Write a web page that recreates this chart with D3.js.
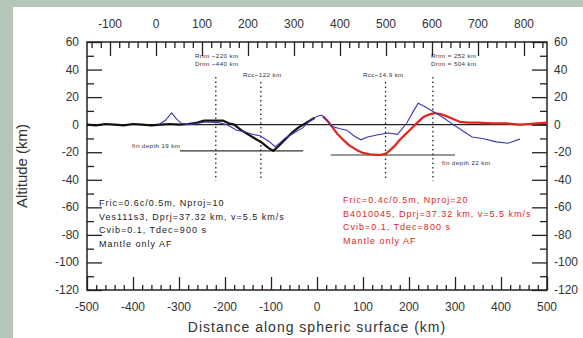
<!DOCTYPE html>
<html>
<head>
<meta charset="utf-8">
<script src="https://cdn.jsdelivr.net/npm/d3@7"></script>
<style>
  body { margin: 0; background: #b4c7b7; }
  svg { display: block; font-family: "Liberation Sans", Arial, sans-serif; }
</style>
</head>
<body>
<svg id="chart" width="583" height="338"></svg>
<script>
// profiles (distance km along surface, altitude km)
const blackProfile = [
  [-500, 0], [-480, -0.5], [-460, 0.5], [-440, 0], [-420, -0.5], [-400, 0.5], [-380, 0], [-360, -0.5],
  [-340, 0], [-320, 0.5], [-300, 0], [-280, 0.5], [-260, 1.5], [-245, 3], [-225, 3], [-205, 3],
  [-192, 1], [-180, 0], [-165, -4], [-150, -7], [-135, -10], [-120, -13], [-105, -17], [-95, -19],
  [-85, -16], [-70, -11], [-55, -6], [-40, -2], [-30, 0], [-15, 3], [-5, 5]
];
const blueProfile = [
  [-345, 0], [-330, 3], [-316, 8.5], [-305, 4], [-295, 1], [-280, 0], [-260, 1], [-240, 2],
  [-215, 1.5], [-195, 0], [-175, -4], [-160, -5], [-140, -7], [-124, -8], [-105, -12], [-91, -16],
  [-80, -13], [-70, -10], [-50, -6], [-30, -2], [-15, 3], [0, 6], [10, 7], [20, 4], [30, -1],
  [50, -3], [65, -4], [80, -8], [95, -11], [110, -9], [130, -7.5], [155, -6], [175, -7], [195, 1],
  [210, 10], [220, 15.5], [235, 13], [255, 9], [275, 5], [296, 0], [315, -4], [337, -9],
  [360, -10], [390, -12.5], [415, -13.5], [441, -10.5]
];
const redProfile = [
  [13, 6], [25, 2], [35, -2.5], [45, -7], [57, -11], [70, -15], [87, -18.5], [100, -20.5],
  [115, -21.5], [137, -22], [150, -21], [159, -18.5], [170, -15], [180, -11], [195, -6],
  [209, -1.5], [220, 2], [231, 5.5], [245, 7.5], [255, 8.5], [270, 7.5], [283, 6], [300, 3.5],
  [311, 2], [330, 1.5], [350, 1.5], [380, 1], [410, 1], [441, 0], [460, 0.5], [480, 1], [500, 1.5]
];

// reference marks
const rimCraterX = [-220, -122, 149, 252];
const finDepths = [
  { x0: -298, x1: -30, depth: -19, label: "fin depth 19 km" },
  { x0: 30, x1: 300, depth: -22, label: "fin depth 22 km" }
];
const blackNotes = ["Fric=0.6c/0.5m, Nproj=10", "Ves111s3, Dprj=37.32 km, v=5.5 km/s", "Cvib=0.1, Tdec=900 s", "Mantle only AF"];
const redNotes = ["Fric=0.4c/0.5m, Nproj=20", "B4010045, Dprj=37.32 km, v=5.5 km/s", "Cvib=0.1, Tdec=800 s", "Mantle only AF"];

const bottomTicks = [-500, -400, -300, -200, -100, 0, 100, 200, 300, 400, 500];
const topTicks = [-100, 0, 100, 200, 300, 400, 500, 600, 700, 800];
const yTicks = [60, 40, 20, 0, -20, -40, -60, -80, -100, -120];

const svg = d3.select("#chart");
svg.append("rect").attr("x", 13).attr("y", 7).attr("width", 570).attr("height", 331).attr("fill", "#fff");

const left = 87, right = 547, plotTop = 42, plotBottom = 290;
const x = d3.scaleLinear().domain([-500, 500]).range([left, right]);
const xTop = d3.scaleLinear().domain([-150, 850]).range([left, right]);
const y = d3.scaleLinear().domain([-120, 60]).range([plotBottom, plotTop]);

const ink = "#222";

// axes
const gB = svg.append("g").attr("transform", `translate(0,${plotBottom})`)
  .call(d3.axisTop(x).tickValues(d3.range(-500, 501, 20)).tickSize(5).tickFormat(""));
gB.selectAll(".tick line").filter(d => d % 100 === 0).attr("y2", -13);
const gT = svg.append("g").attr("transform", `translate(0,${plotTop})`)
  .call(d3.axisBottom(xTop).tickValues(d3.range(-140, 841, 20)).tickSize(6).tickFormat(""));
gT.selectAll(".tick line").filter(d => d % 100 === 0).attr("y2", 14);
const gL = svg.append("g").attr("transform", `translate(${left},0)`)
  .call(d3.axisRight(y).tickValues(d3.range(-120, 61, 10)).tickSize(7).tickFormat(""));
gL.selectAll(".tick line").filter(d => d % 20 === 0).attr("x2", 15);
const gR = svg.append("g").attr("transform", `translate(${right},0)`)
  .call(d3.axisLeft(y).tickValues(d3.range(-120, 61, 10)).tickSize(7).tickFormat(""));
gR.selectAll(".tick line").filter(d => d % 20 === 0).attr("x2", -15);
[gB, gT, gL, gR].forEach(g => {
  g.select(".domain").remove();
  g.selectAll(".tick line").attr("stroke", ink).attr("stroke-width", 1.3);
});
svg.append("rect").attr("x", left).attr("y", plotTop).attr("width", right - left).attr("height", plotBottom - plotTop)
  .attr("fill", "none").attr("stroke", ink).attr("stroke-width", 1.5);

// tick labels
svg.selectAll(".bl").data(bottomTicks).join("text")
  .attr("x", d => x(d)).attr("y", 311).attr("text-anchor", "middle")
  .attr("font-size", 12).attr("fill", "#333").text(d => d);
svg.selectAll(".tl").data(topTicks).join("text")
  .attr("x", d => xTop(d)).attr("y", 28).attr("text-anchor", "middle")
  .attr("font-size", 12).attr("fill", "#333").text(d => d);
svg.selectAll(".ll").data(yTicks).join("text")
  .attr("x", 79).attr("y", d => y(d) + 4).attr("text-anchor", "end")
  .attr("font-size", 12).attr("fill", "#333").text(d => d);
svg.selectAll(".rl").data(yTicks).join("text")
  .attr("x", 554).attr("y", d => y(d) + 4).attr("text-anchor", "start")
  .attr("font-size", 12).attr("fill", "#333").text(d => d);

svg.append("text").attr("transform", `translate(27,${(plotTop + plotBottom) / 2}) rotate(-90)`)
  .attr("text-anchor", "middle").attr("font-size", 15).attr("fill", "#333").text("Altitude (km)");
svg.append("text").attr("x", 317).attr("y", 332).attr("text-anchor", "middle")
  .attr("font-size", 14).attr("letter-spacing", 1).attr("fill", "#333")
  .text("Distance along spheric surface (km)");

// zero line, depth lines, rim/crater markers
svg.append("line").attr("x1", left).attr("x2", right).attr("y1", y(0)).attr("y2", y(0))
  .attr("stroke", ink).attr("stroke-width", 1.2);
svg.selectAll(".fd").data(finDepths).join("line")
  .attr("x1", d => x(d.x0)).attr("x2", d => x(d.x1)).attr("y1", d => y(d.depth)).attr("y2", d => y(d.depth))
  .attr("stroke", "#333").attr("stroke-width", 1.2);
svg.selectAll(".vd").data(rimCraterX).join("line")
  .attr("x1", d => x(d)).attr("x2", d => x(d))
  .attr("y1", (d, i) => (i === 0 || i === 3) ? 77 : 82).attr("y2", 181)
  .attr("stroke", "#222").attr("stroke-width", 1.3).attr("stroke-dasharray", "1.5,3");

const small = (tx, ty, t) => svg.append("text").attr("x", tx).attr("y", ty)
  .attr("font-size", 6.2).attr("letter-spacing", 0.4).attr("fill", "#333").text(t);
small(195, 58, "Rrim ~220 km");
small(195, 66, "Drim ~440 km");
small(243, 77, "Rcc~122 km");
small(363, 77, "Rcc~14.9 km");
small(431, 58, "Rrim = 252 km");
small(431, 66, "Drim = 504 km");
small(132, 148, finDepths[0].label);
small(442, 165, finDepths[1].label);

// profiles
const line = d3.line().x(d => x(d[0])).y(d => y(d[1]));
svg.append("path").datum(blackProfile).attr("d", line).attr("fill", "none")
  .attr("stroke", "#111").attr("stroke-width", 2.2).attr("stroke-linejoin", "round");
svg.append("path").datum(redProfile).attr("d", line).attr("fill", "none")
  .attr("stroke", "#e3231c").attr("stroke-width", 2.2).attr("stroke-linejoin", "round");
svg.append("path").datum(blueProfile).attr("d", line).attr("fill", "none")
  .attr("stroke", "#3a36b0").attr("stroke-width", 1.1);

// notes
svg.selectAll(".bn").data(blackNotes).join("text")
  .attr("x", 99).attr("y", (d, i) => 206 + i * 13.5).attr("font-size", 9).attr("letter-spacing", 1)
  .attr("fill", "#222").text(d => d);
svg.selectAll(".rn").data(redNotes).join("text")
  .attr("x", 343).attr("y", (d, i) => 203 + i * 13.5).attr("font-size", 9).attr("letter-spacing", 1)
  .attr("fill", "#e3231c").text(d => d);
</script>
</body>
</html>
